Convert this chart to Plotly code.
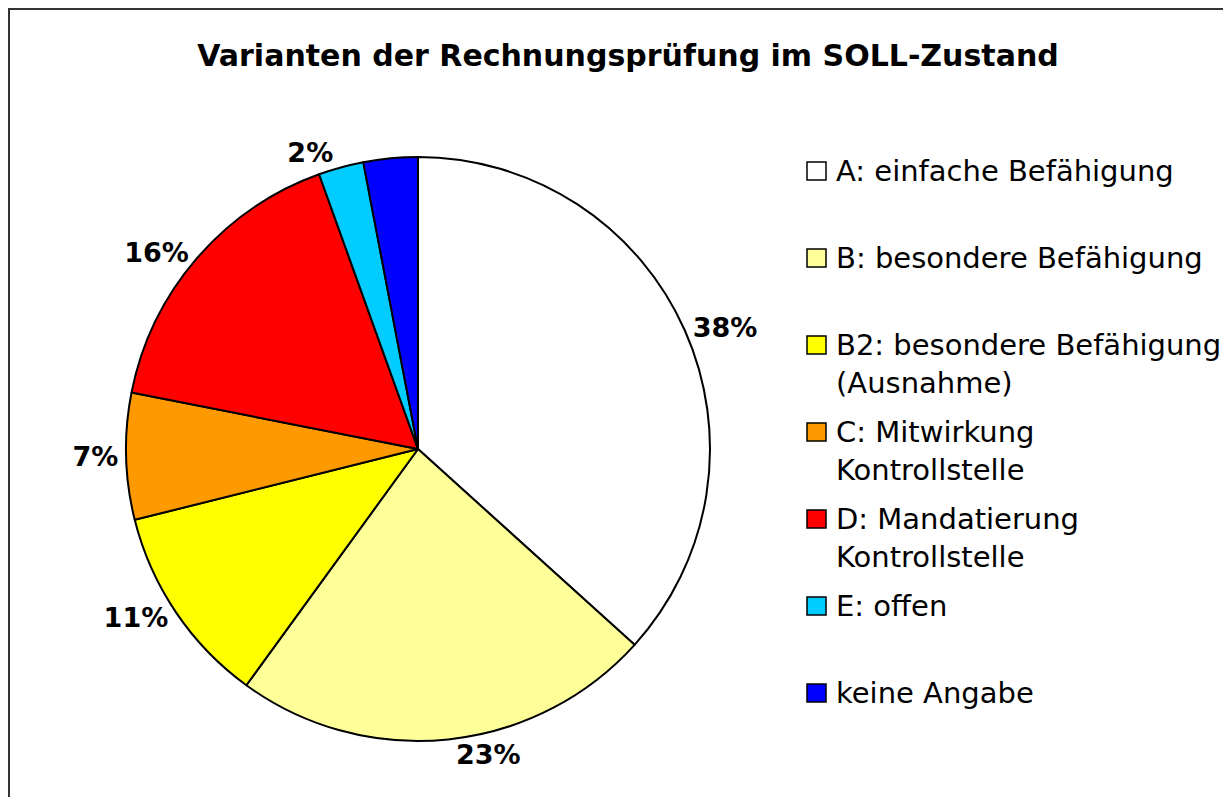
import plotly.graph_objects as go

labels = ["A: einfache Befähigung", "B: besondere Befähigung",
          "B2: besondere Befähigung<br>(Ausnahme)", "C: Mitwirkung<br>Kontrollstelle",
          "D: Mandatierung<br>Kontrollstelle", "E: offen", "keine Angabe"]
shares = [36.7, 23.3, 11.1, 7.0, 16.4, 2.5, 3.0]
pct_text = ["38%", "23%", "11%", "7%", "16%", "2%", ""]
colors = ["#FFFFFF", "#FFFF99", "#FFFF00", "#FF9900", "#FF0000", "#00CCFF", "#0000FF"]

W, H = 1231, 797
FONT = "DejaVu Sans"
CX, CY, R = 410, 441, 292  # pie centre / radius in px (page has an 8px body margin)

fig = go.Figure()
fig.add_trace(go.Pie(
    labels=labels,
    values=shares,
    text=pct_text,
    textinfo="text",
    textposition="outside",
    textfont=dict(family=FONT, size=27, color="black", weight="bold"),
    marker=dict(colors=colors, line=dict(color="black", width=2)),
    sort=False,
    direction="clockwise",
    rotation=0,
    showlegend=False,
    hoverinfo="label+percent",
    domain=dict(x=[(CX - R) / W, (CX + R) / W],
                y=[(H - CY - R) / H, (H - CY + R) / H]),
))

# frame round the whole chart
shapes = [dict(type="rect", xref="paper", yref="paper", x0=1 / W, x1=1.2, y0=-0.2, y1=1 - 1 / H,
               line=dict(color="#333333", width=2), fillcolor="rgba(0,0,0,0)", layer="below")]

# hand-made legend on the right: square + text, one item every 87 px
annotations = []
for i, (name, col) in enumerate(zip(labels, colors)):
    yc = 163 + 87 * i
    shapes.append(dict(type="rect", xref="paper", yref="paper",
                       x0=799 / W, x1=818 / W, y0=1 - (yc + 9) / H, y1=1 - (yc - 9) / H,
                       line=dict(color="black", width=1.5), fillcolor=col))
    annotations.append(dict(text=name, xref="paper", yref="paper", x=826 / W, y=1 - (yc - 19) / H,
                            xanchor="left", yanchor="top", align="left", showarrow=False,
                            font=dict(family=FONT, size=29, color="black")))

fig.update_layout(
    width=W, height=H,
    margin=dict(l=0, r=0, t=0, b=0),
    paper_bgcolor="white",
    title=dict(text="<b>Varianten der Rechnungsprüfung im SOLL-Zustand</b>",
               x=620 / W, xanchor="center", y=1 - 47 / H, yanchor="middle",
               font=dict(family=FONT, size=30, color="black")),
    shapes=shapes,
    annotations=annotations,
)

fig.write_html("out.html")
